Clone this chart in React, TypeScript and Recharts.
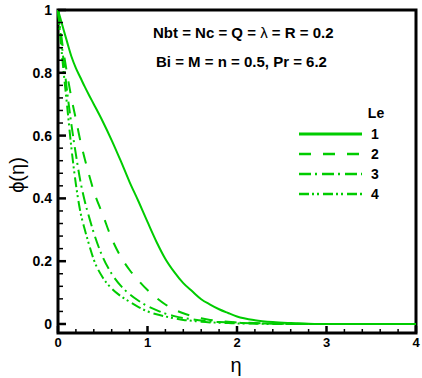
import React from "react";
import {
  LineChart,
  Line,
  XAxis,
  YAxis,
  ReferenceArea,
  Customized,
} from "recharts";

// eta grid and phi(eta) for each Le
const eta = [
  0, 0.05, 0.1, 0.15, 0.2, 0.25, 0.3, 0.35, 0.4, 0.5, 0.6, 0.7, 0.8, 0.9, 1.0, 1.1,
  1.2, 1.3, 1.4, 1.5, 1.6, 1.7, 1.8, 1.9, 2.0, 2.2, 2.4, 2.6, 2.8, 3.0, 3.5, 4.0,
];
const le1 = [
  1.0, 0.95, 0.9, 0.852, 0.815, 0.785, 0.755, 0.727, 0.7, 0.645, 0.585, 0.52, 0.452,
  0.39, 0.325, 0.262, 0.207, 0.165, 0.13, 0.104, 0.079, 0.062, 0.047, 0.035, 0.024,
  0.012, 0.006, 0.003, 0.001, 0, 0, 0,
];
const le2 = [
  1.0, 0.89, 0.8, 0.72, 0.652, 0.583, 0.525, 0.472, 0.423, 0.348, 0.272, 0.215, 0.172,
  0.138, 0.108, 0.083, 0.062, 0.046, 0.034, 0.025, 0.018, 0.013, 0.009, 0.007, 0.005,
  0.003, 0.001, 0.001, 0, 0, 0, 0,
];
const le3 = [
  1.0, 0.87, 0.745, 0.635, 0.54, 0.455, 0.39, 0.338, 0.29, 0.213, 0.16, 0.122, 0.095,
  0.074, 0.057, 0.044, 0.033, 0.025, 0.019, 0.015, 0.011, 0.008, 0.006, 0.005, 0.004,
  0.002, 0.001, 0, 0, 0, 0, 0,
];
const le4 = [
  1.0, 0.84, 0.7, 0.56, 0.445, 0.357, 0.3, 0.25, 0.205, 0.148, 0.113, 0.089, 0.071,
  0.054, 0.04, 0.031, 0.024, 0.018, 0.013, 0.01, 0.007, 0.005, 0.004, 0.003, 0.002,
  0.001, 0, 0, 0, 0, 0, 0,
];

const leLabels = ["1", "2", "3", "4"];
const xMajor = [0, 1, 2, 3, 4];
const yMajor = [0, 0.2, 0.4, 0.6, 0.8, 1];

const GREEN = "#00cc00";
const FONT = "'Liberation Sans', Arial, sans-serif";
const Y_MIN = -0.0287;

const series = [
  { key: "le1", dash: undefined, width: 2, legendWidth: 3 },
  { key: "le2", dash: "12 12", width: 2, legendWidth: 2.5 },
  { key: "le3", dash: "12 4 2 5", width: 2, legendWidth: 2.5 },
  { key: "le4", dash: "10 3 2 3 2 4", width: 2, legendWidth: 2.5 },
];

const data = eta.map((e, i) => ({ eta: e, le1: le1[i], le2: le2[i], le3: le3[i], le4: le4[i] }));

const xTicks: number[] = [];
for (let k = 0; k <= 20; k++) xTicks.push(Math.round(k * 2) / 10);
const yTicks: number[] = [];
for (let k = 0; k <= 25; k++) yTicks.push(Math.round(k * 4) / 100);

const isMajor = (v: number, list: number[]) => list.some((m) => Math.abs(m - v) < 1e-6);
const fmt = (v: number) => String(Number(v.toFixed(1)));

const YTick = (props: any) => {
  const { x, y, payload } = props;
  const major = isMajor(payload.value, yMajor);
  return (
    <g>
      <line x1={x} y1={y} x2={x + (major ? 8 : 5)} y2={y} stroke="#000" strokeWidth={major ? 2.5 : 1.5} />
      {major && (
        <text x={x - 6} y={y + 5} textAnchor="end" fontFamily={FONT} fontWeight="bold" fontSize={14} fill="#000">
          {fmt(payload.value)}
        </text>
      )}
    </g>
  );
};

const XTick = (props: any) => {
  const { x, y, payload } = props;
  const major = isMajor(payload.value, xMajor);
  return (
    <g>
      <line x1={x} y1={y} x2={x} y2={y - (major ? 7 : 4)} stroke="#000" strokeWidth={major ? 2.5 : 1.5} />
      {major && (
        <text x={x} y={y + 14} textAnchor="middle" fontFamily={FONT} fontWeight="bold" fontSize={13} fill="#000">
          {fmt(payload.value)}
        </text>
      )}
    </g>
  );
};

const Annotations = () => (
  <g fontFamily={FONT} fill="#000">
    <text x={153} y={38} fontSize={15} fontWeight="bold">
      Nbt = Nc = Q = <tspan fontWeight="normal">λ</tspan> = R = 0.2
    </text>
    <text x={156} y={67} fontSize={15} fontWeight="bold">
      Bi = M = n = 0.5, Pr = 6.2
    </text>
    <text x={24} y={175} fontSize={20} textAnchor="middle" transform="rotate(-90, 24, 175)">
      ϕ(η)
    </text>
    <text x={236} y={372} fontSize={20} textAnchor="middle">
      η
    </text>
    {/* legend */}
    <g transform="translate(295, 100)">
      <text x={81} y={18} textAnchor="middle" fontWeight="bold" fontSize={14}>
        Le
      </text>
      {series.map((s, i) => {
        const ly = 34 + i * 20;
        return (
          <g key={s.key}>
            <line x1={4} y1={ly} x2={67} y2={ly} stroke={GREEN} strokeWidth={s.legendWidth} strokeDasharray={s.dash} />
            <text x={80} y={ly + 5} textAnchor="middle" fontWeight="bold" fontSize={14}>
              {leLabels[i]}
            </text>
          </g>
        );
      })}
    </g>
  </g>
);

export default function App() {
  return (
    <div style={{ position: "absolute", left: 0, top: 0, width: 422, height: 378, background: "#fff" }}>
      <LineChart width={422} height={378} data={data} margin={{ top: 10, right: 6, left: 8, bottom: 15 }}>
        <XAxis
          dataKey="eta"
          type="number"
          domain={[0, 4]}
          ticks={xTicks}
          interval={0}
          height={30}
          axisLine={false}
          tickLine={false}
          tickSize={0}
          tickMargin={0}
          tick={<XTick />}
        />
        <YAxis
          type="number"
          domain={[Y_MIN, 1]}
          ticks={yTicks}
          interval={0}
          width={50}
          axisLine={false}
          tickLine={false}
          tickSize={0}
          tickMargin={0}
          tick={<YTick />}
        />
        <ReferenceArea x1={0} x2={4} y1={Y_MIN} y2={1} fill="none" stroke="#000" strokeWidth={3} />
        {series.map((s) => (
          <Line
            key={s.key}
            type="monotone"
            dataKey={s.key}
            stroke={GREEN}
            strokeWidth={s.width}
            strokeDasharray={s.dash}
            dot={false}
            activeDot={false}
            isAnimationActive={false}
          />
        ))}
        <Customized component={<Annotations />} />
      </LineChart>
    </div>
  );
}
